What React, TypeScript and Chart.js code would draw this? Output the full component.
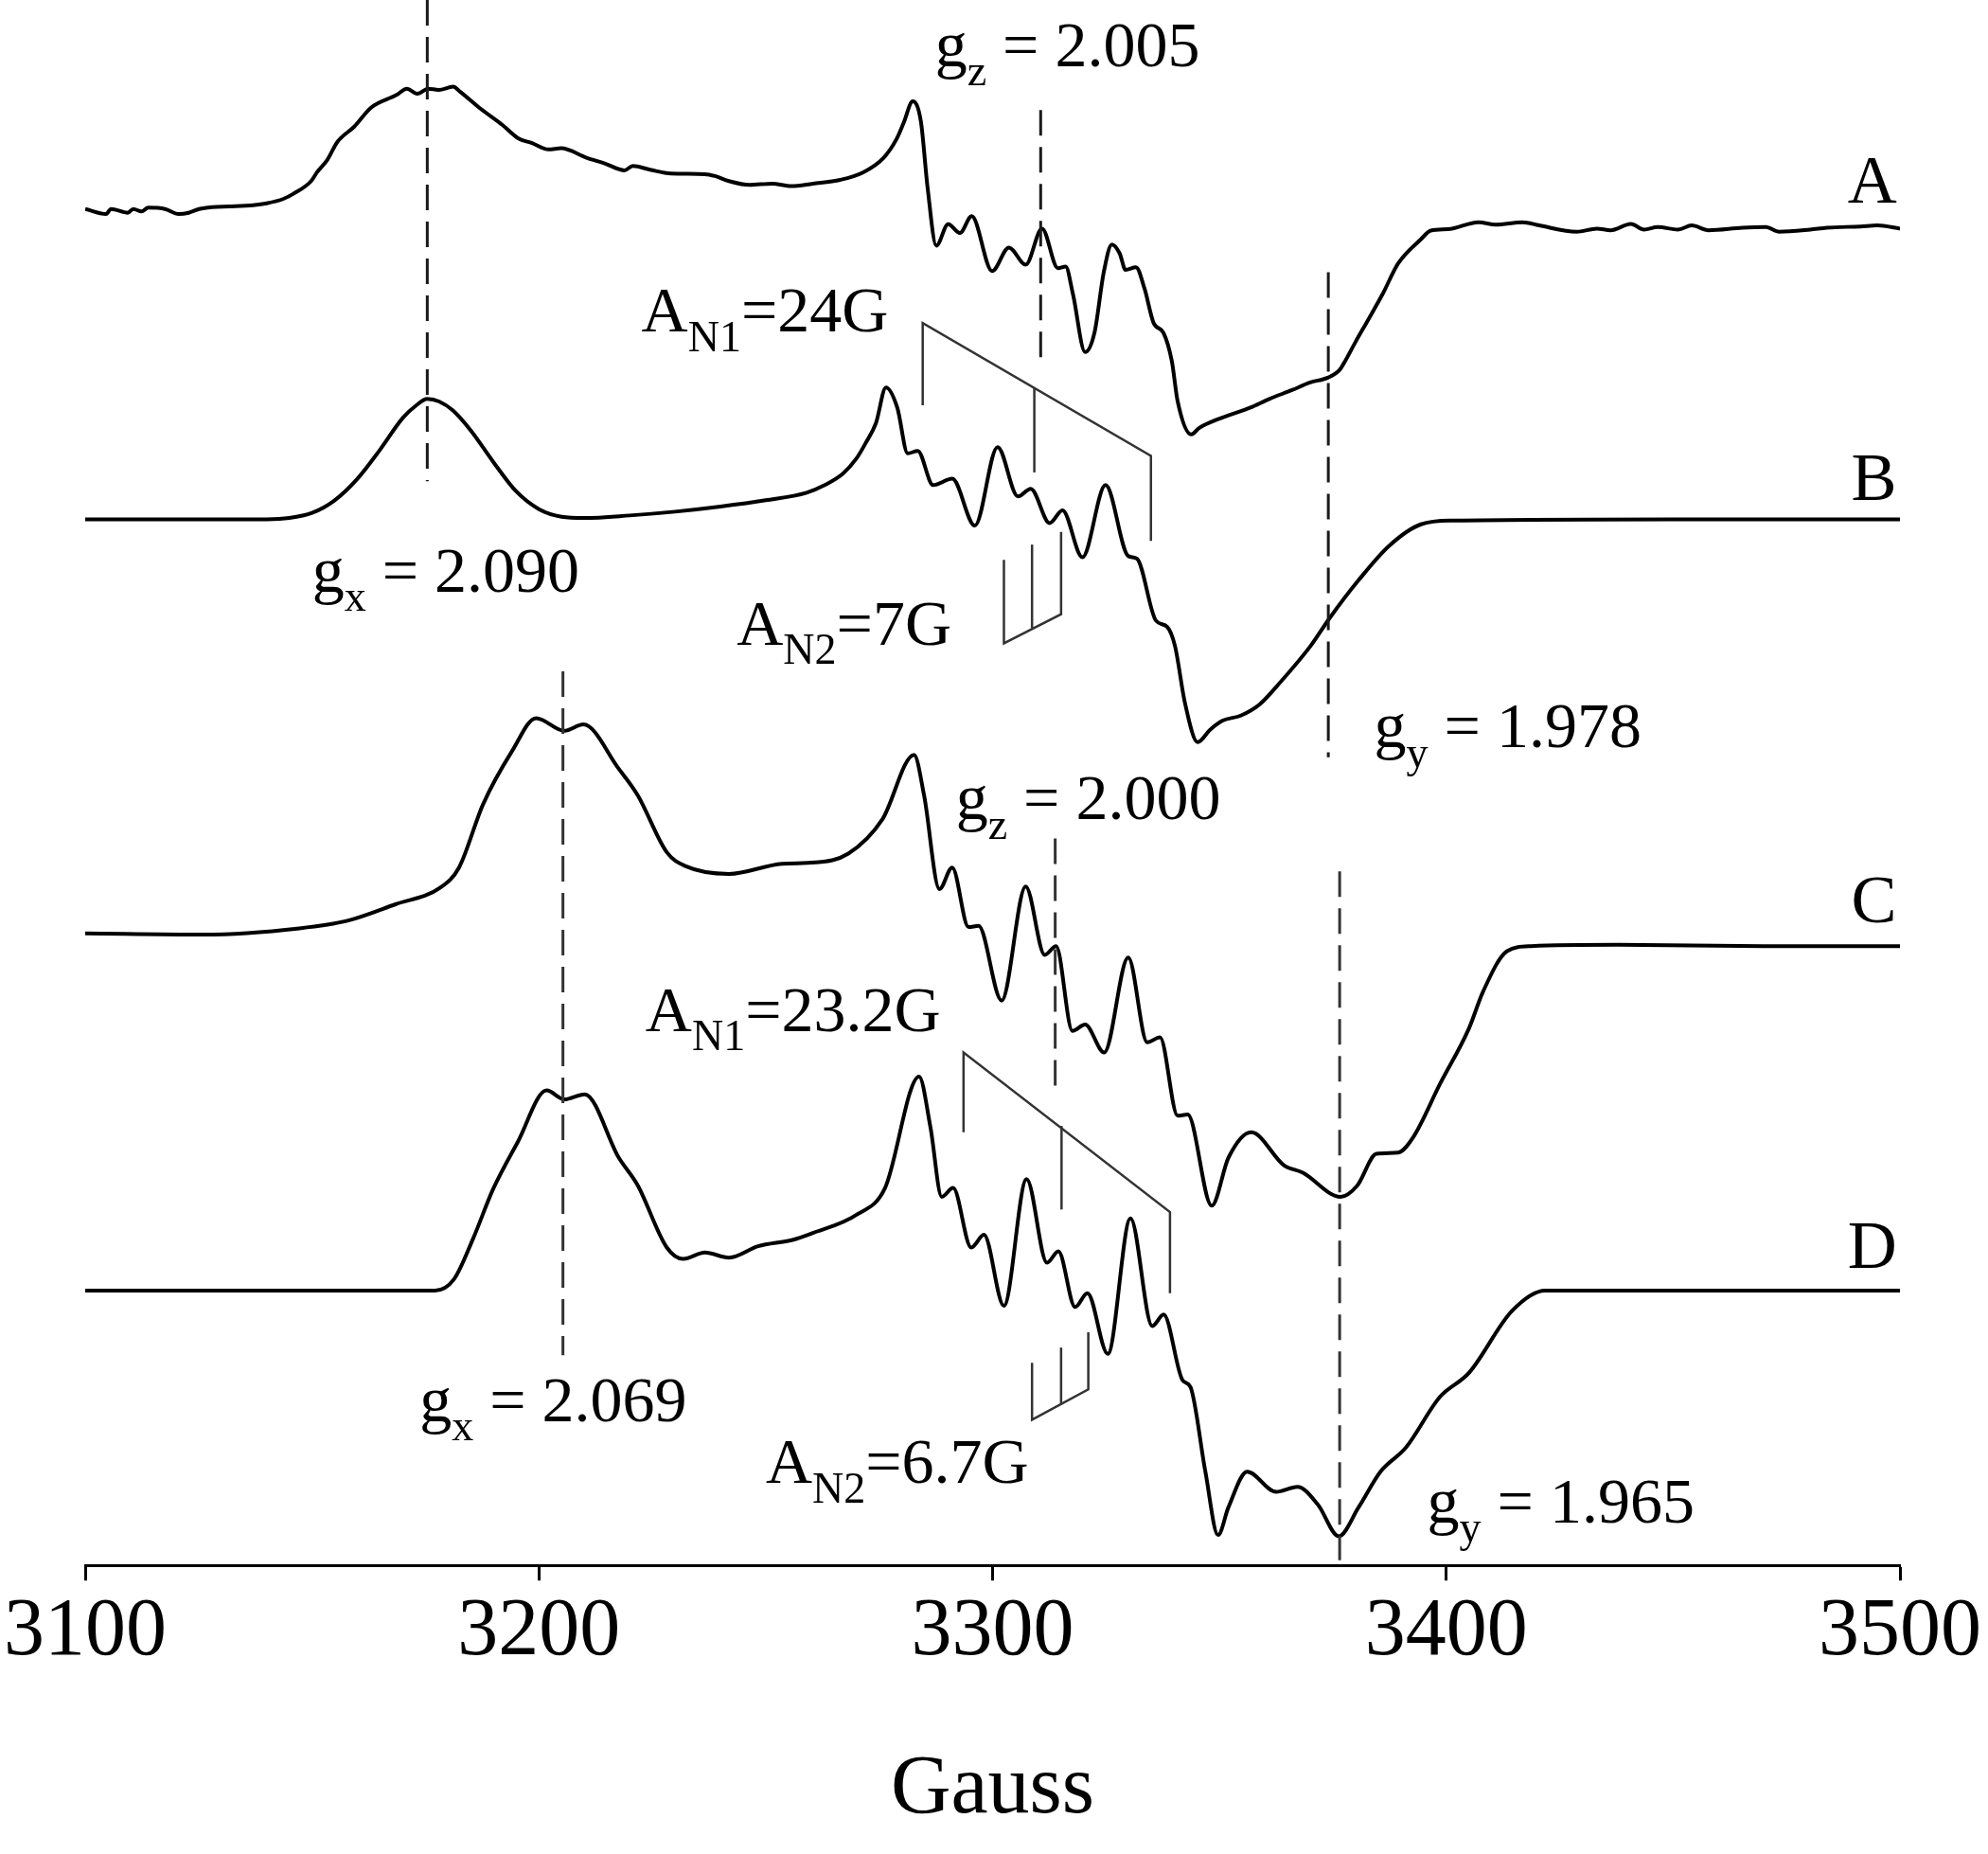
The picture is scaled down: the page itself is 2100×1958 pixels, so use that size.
import { useEffect, useRef } from 'react';
import { Chart, registerables } from 'chart.js';

Chart.register(...registerables);

// ---------- axis ----------
const FIELD_MIN = 3100;
const FIELD_MAX = 3500;
const fieldTickStep = 100;
const axisTitle = 'Gauss';

// ---------- traces (field in Gauss, signal in arbitrary units relative to each baseline) ----------
const traceLabels = ['A', 'B', 'C', 'D'];
const traceOffsets = [1071, 826, 496, 217];

const fieldA = [3100, 3104.6, 3105.7, 3109.4, 3110.6, 3112.4, 3113.9, 3117.6, 3120.6, 3122.8, 3125.1, 3128, 3131.8, 3137, 3140, 3143.7, 3145.9, 3149.8, 3151.1, 3153.4, 3155.6, 3159.3, 3163, 3168.6, 3170.9, 3173.2, 3175.6, 3177.9, 3181.1, 3182.5, 3187.2, 3191.9, 3195.6, 3198.5, 3202.1, 3204.9, 3210.5, 3214.5, 3218.9, 3220.7, 3224.5, 3229.1, 3236.6, 3238.8, 3241.9, 3246.4, 3251.4, 3255.6, 3260.4, 3266.4, 3271.5, 3276, 3278.8, 3280.4, 3282.4, 3284.2, 3285.7, 3287.6, 3290.2, 3292.8, 3295.4, 3299.9, 3303.6, 3307.3, 3310.9, 3314.4, 3316.1, 3317.7, 3320.4, 3322.5, 3324.5, 3326.3, 3328, 3329.3, 3331.6, 3333.5, 3335.5, 3337.7, 3339.5, 3340.8, 3343.8, 3345.5, 3348.3, 3352, 3356.7, 3361, 3366, 3370, 3374, 3376.5, 3377.4, 3380, 3382.7, 3386, 3389.4, 3394.4, 3396.6, 3400.4, 3407.1, 3410.9, 3416.8, 3420.5, 3428.7, 3433.2, 3436.2, 3440.7, 3443.6, 3446.6, 3451.1, 3454.1, 3457.8, 3465.3, 3470.4, 3473.4, 3480.2, 3483.9, 3491.3, 3495, 3500];
const signalA = [0, -4, 0, -3, 0, -2, 1, 0, -4, -3, 0, 1.5, 2, 3, 4.5, 8, 12, 22, 29, 39, 53, 65, 80, 90, 95, 91, 95, 94, 96.5, 93, 79, 66.5, 55.5, 52, 47, 48, 40.5, 36, 30.5, 34, 31, 28, 27.5, 26, 22, 19, 20, 18, 20, 23, 29, 40.5, 55, 68, 85, 69, 16, -29, -12, -19, -5.6, -49, -30.5, -44, -15.5, -46.7, -45.4, -67, -113, -97, -50, -28, -35, -48, -46, -63, -90, -98, -120, -152, -178, -173, -168, -163, -157, -150, -143, -137, -133, -127, -122, -105, -88, -67, -43, -24, -17, -16, -10.5, -12.3, -10.5, -13, -18, -15.5, -16.8, -11.8, -16.3, -14.3, -16.3, -13, -16.8, -14.8, -14.3, -18, -16.3, -14.8, -13.8, -13, -15.5];

const fieldB = [3100, 3120, 3140, 3145, 3150, 3155, 3160, 3165, 3170, 3173, 3175.4, 3178, 3181, 3185, 3190, 3195, 3200, 3205, 3210, 3220, 3230, 3240, 3250, 3259, 3263, 3267, 3270, 3272, 3274.3, 3276.5, 3279, 3281.3, 3283.5, 3286.9, 3291.1, 3296.1, 3301.1, 3305.6, 3308.4, 3312.6, 3315.4, 3319.8, 3324.9, 3329.9, 3331.8, 3336, 3338.5, 3340.2, 3342.4, 3345.2, 3348, 3350.7, 3354.7, 3358.9, 3363.1, 3370.1, 3374.3, 3380.7, 3387.4, 3394.4, 3401.4, 3450, 3500];
const signalB = [0, 0, 0, 1, 5, 15, 32, 55, 80, 90, 95, 93, 86, 70, 45, 22, 8, 2, 1, 3, 6, 10, 15, 21, 27, 36, 48, 60, 76, 104, 88, 52, 54, 27, 32, -5, 57, 18, 24, -3, 7, -30, 27, -29, -31, -80, -85, -100, -145, -176, -166, -159, -155, -146, -130, -100, -78, -48, -21, -4, -1, 0, 0];

const fieldC = [3100, 3126, 3147.2, 3157.8, 3168.4, 3178.2, 3182.4, 3187.7, 3194.1, 3199.4, 3205.6, 3209.8, 3217.6, 3221.8, 3228.2, 3232.4, 3241.9, 3253.6, 3260.9, 3268.2, 3275.7, 3282.7, 3284.9, 3288.3, 3291.1, 3294.7, 3296.9, 3302, 3307.3, 3311.5, 3314, 3317.6, 3320.4, 3324.6, 3329.9, 3334.1, 3336.9, 3340.8, 3343, 3348.3, 3352, 3357, 3364.2, 3368.4, 3376.7, 3380.4, 3384.6, 3389.4, 3392.7, 3398.6, 3405, 3408.1, 3413.4, 3418.7, 3438, 3470, 3500];
const signalC = [3, 2, 7, 13, 26, 39, 55, 105, 147, 173, 163, 168, 133, 112, 67, 56, 50, 58, 59, 66, 93, 144, 112, 38, 55, 8, 9, -50, 40, -14, -7, -74, -69, -91, -16, -83, -79, -141, -140, -212, -174, -154, -180, -186, -205, -196, -171, -170, -158, -116, -72, -43, -11, -7, -6, -7, -7];

const fieldD = [3100, 3177.1, 3181.3, 3185.5, 3189.9, 3195.3, 3201.7, 3205.6, 3210.1, 3217.6, 3221.8, 3228.2, 3231.8, 3236.6, 3241.9, 3248.3, 3255.9, 3260, 3270.1, 3276.3, 3283.8, 3286.3, 3288.8, 3291.3, 3295.3, 3298.1, 3302.5, 3307.5, 3312, 3314.5, 3318.2, 3320.9, 3325.4, 3330.4, 3335.2, 3337.7, 3341.9, 3343.6, 3346.9, 3349.7, 3352, 3356.1, 3362.5, 3367.2, 3371.7, 3376.3, 3380.7, 3385.5, 3391.1, 3398.6, 3405, 3414.5, 3421.8, 3460, 3500];
const signalD = [0, 0, 9, 41, 80, 117, 158, 151, 155, 105, 83, 34, 25, 30, 26, 35, 40, 45, 60, 81, 169, 129, 74, 81, 34, 44, -12, 88, 22, 31, -13, -2, -50, 57, -28, -19, -71, -76, -143, -193, -171, -143, -159, -155, -169, -194, -171, -143, -124, -84, -65, -16, 0, 0, 0];

const traceFields = [fieldA, fieldB, fieldC, fieldD];
const traceSignals = [signalA, signalB, signalC, signalD];

// ---------- annotations (field in Gauss, level in the same units as the stacked traces) ----------
const gMarkerFields = [3175.4, 3310.6, 3374.0, 3205.3, 3313.8, 3376.5];
const gMarkerTops = [1236, 1149, 1021, 706, 574, 548];
const gMarkerBottoms = [856, 948, 638, 166, 372, 4];

// stick diagrams: polylines of [field, level]
const stickDiagrams: number[][][] = [
  [[3284.6, 916], [3284.6, 981], [3334.9, 876], [3334.9, 809]],
  [[3309.2, 930], [3309.2, 863]],
  [[3302.5, 794], [3302.5, 728], [3315.1, 751], [3315.1, 816]],
  [[3308.7, 806], [3308.7, 740]],
  [[3293.6, 342], [3293.6, 405], [3339.1, 279], [3339.1, 215]],
  [[3315.2, 347], [3315.2, 281]],
  [[3308.7, 160], [3308.7, 115], [3321.1, 139], [3321.1, 184]],
  [[3315.1, 172], [3315.1, 127]],
];

type Part = [string, boolean];
const labelParts: Part[][] = [
  [['g', false], ['z', true], [' = 2.005', false]],
  [['A', false], ['N1', true], ['=24G', false]],
  [['g', false], ['x', true], [' = 2.090', false]],
  [['A', false], ['N2', true], ['=7G', false]],
  [['g', false], ['y', true], [' = 1.978', false]],
  [['g', false], ['z', true], [' = 2.000', false]],
  [['A', false], ['N1', true], ['=23.2G', false]],
  [['g', false], ['x', true], [' = 2.069', false]],
  [['A', false], ['N2', true], ['=6.7G', false]],
  [['g', false], ['y', true], [' = 1.965', false]],
];
const labelFields = [3287.3, 3222.6, 3150.0, 3243.6, 3384.1, 3291.9, 3223.5, 3173.7, 3250.0, 3395.8];
const labelLevels = [1184, 974, 769, 727, 646, 589, 422, 114, 65, 34];
const traceLabelField = 3499.3;
const traceLabelLevels = [1076, 841, 508, 235];

const SERIF = '"Liberation Serif", "Times New Roman", Times, serif';

function drawRich(ctx: CanvasRenderingContext2D, parts: Part[], x: number, y: number, size: number) {
  let cx = x;
  const subSize = Math.round(size * 0.68);
  for (const [text, sub] of parts) {
    ctx.font = `${sub ? subSize : size}px ${SERIF}`;
    ctx.fillText(text, cx, sub ? y + size * 0.3 : y);
    cx += ctx.measureText(text).width;
  }
}

const annotationPlugin = {
  id: 'eprAnnotations',
  afterDatasetsDraw(chart: any) {
    const { ctx } = chart;
    const xs = chart.scales.x;
    const ys = chart.scales.y;
    const px = (g: number) => xs.getPixelForValue(g);
    const py = (v: number) => ys.getPixelForValue(v);
    ctx.save();
    // dashed g markers
    ctx.lineWidth = 3;
    ctx.setLineDash([27, 12]);
    gMarkerFields.forEach((f, i) => {
      ctx.strokeStyle = i < 3 ? '#1a1a1a' : '#333';
      ctx.beginPath();
      ctx.moveTo(px(f), py(gMarkerTops[i]));
      ctx.lineTo(px(f), py(gMarkerBottoms[i]));
      ctx.stroke();
    });
    // stick diagrams
    ctx.setLineDash([]);
    ctx.lineWidth = 2.5;
    ctx.strokeStyle = '#333';
    stickDiagrams.forEach((poly) => {
      ctx.beginPath();
      poly.forEach(([f, v], j) => {
        if (j === 0) ctx.moveTo(px(f), py(v));
        else ctx.lineTo(px(f), py(v));
      });
      ctx.stroke();
    });
    // texts
    ctx.fillStyle = '#000';
    ctx.textBaseline = 'alphabetic';
    ctx.textAlign = 'left';
    labelParts.forEach((parts, i) => {
      drawRich(ctx, parts, px(labelFields[i]), py(labelLevels[i]), 68);
    });
    ctx.textAlign = 'right';
    ctx.font = `72px ${SERIF}`;
    traceLabels.forEach((t, i) => {
      ctx.fillText(t, px(traceLabelField), py(traceLabelLevels[i]));
    });
    ctx.restore();
  },
};

export default function App() {
  const canvasRef = useRef<HTMLCanvasElement | null>(null);

  useEffect(() => {
    const canvas = canvasRef.current;
    if (!canvas) return;
    const datasets = traceLabels.map((label, t) => ({
      label,
      data: traceFields[t].map((f, i) => ({ x: f, y: traceOffsets[t] + traceSignals[t][i] })),
      borderColor: '#000',
      borderWidth: 4,
      pointRadius: 0,
      fill: false,
      cubicInterpolationMode: 'monotone' as const,
    }));
    const chart = new Chart(canvas, {
      type: 'line',
      data: { datasets },
      options: {
        animation: false,
        responsive: false,
        maintainAspectRatio: false,
        devicePixelRatio: 1,
        layout: { padding: { left: 89, right: 93, top: 0, bottom: 14 } },
        plugins: { legend: { display: false }, tooltip: { enabled: false } },
        scales: {
          x: {
            type: 'linear',
            position: 'bottom',
            min: FIELD_MIN,
            max: FIELD_MAX,
            ticks: {
              stepSize: fieldTickStep,
              padding: 4,
              color: '#000',
              font: { family: SERIF, size: 86 },
              callback: (v: any) => String(v),
            },
            grid: {
              display: true,
              drawOnChartArea: false,
              drawTicks: true,
              tickLength: 16,
              tickWidth: 3,
              tickColor: '#000',
            },
            border: { display: true, color: '#000', width: 3 },
            title: {
              display: true,
              text: axisTitle,
              color: '#000',
              font: { family: SERIF, size: 88 },
              padding: { top: 58, bottom: 0 },
            },
          },
          y: { type: 'linear', display: false, min: 0, max: 1236 },
        },
      },
      plugins: [annotationPlugin],
    });
    return () => chart.destroy();
  }, []);

  return (
    <div style={{ position: 'absolute', left: 0, top: 0, width: 2100, height: 1958, background: '#fff' }}>
      <canvas ref={canvasRef} width={2100} height={1958} style={{ width: 2100, height: 1958, display: 'block' }} />
    </div>
  );
}
